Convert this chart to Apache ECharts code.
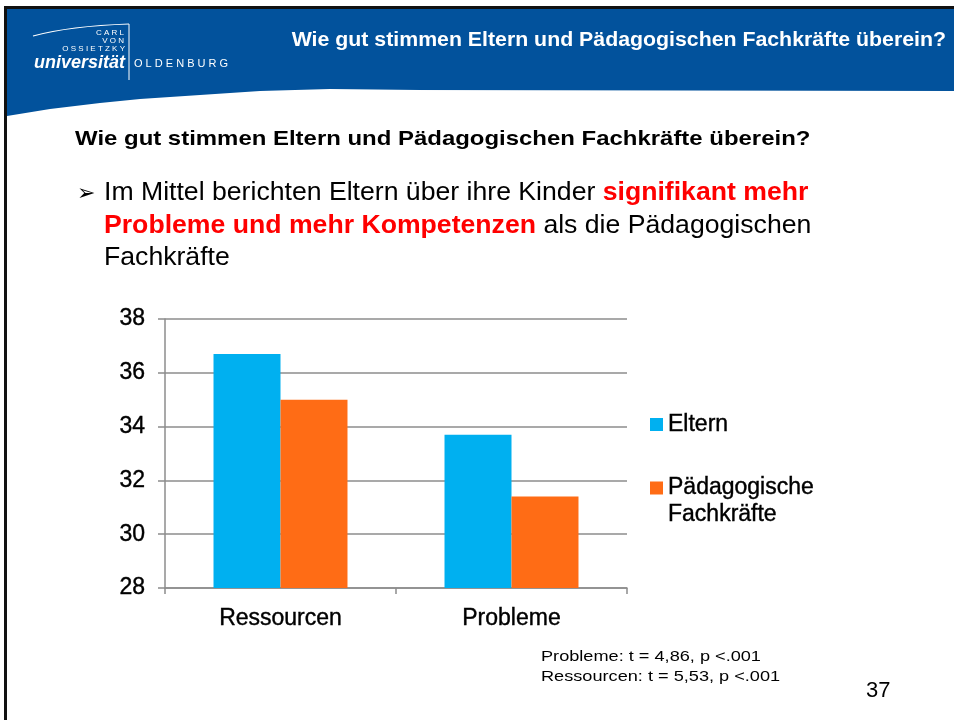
<!DOCTYPE html>
<html>
<head>
<meta charset="utf-8">
<script src="https://cdn.jsdelivr.net/npm/echarts@6/dist/echarts.min.js"></script>
<style>
html,body{margin:0;padding:0;background:#fff;}
#c{width:954px;height:720px;}
</style>
</head>
<body>
<div id="c"></div>
<script>
const categories = ['Ressourcen', 'Probleme'];
const seriesNames = ['Eltern', 'Pädagogische Fachkräfte'];
const elternValues = [36.7, 33.7];
const fachkraefteValues = [35.0, 31.4];
const yTicks = [28, 30, 32, 34, 36, 38];
const footnotes = ['Probleme: t = 4,86, p <.001', 'Ressourcen: t = 5,53, p <.001'];
const pageNumber = '37';

const FONT = '"Liberation Sans", Arial, sans-serif';
const chart = echarts.init(document.getElementById('c'), null, {renderer: 'canvas'});

const chartText = {color: '#000', fontSize: 23, fontFamily: FONT, textBorderColor: '#000', textBorderWidth: 0.4};

const option = {
  backgroundColor: '#ffffff',
  animation: false,
  grid: {left: 165, right: 327, top: 319, bottom: 132, containLabel: false},
  xAxis: {
    type: 'category',
    data: categories,
    axisLine: {show: true, lineStyle: {color: '#8c8c8c', width: 1.5}},
    axisTick: {show: true, length: 6, interval: 0, lineStyle: {color: '#8c8c8c', width: 1.5}},
    axisLabel: Object.assign({margin: 19}, chartText)
  },
  yAxis: {
    type: 'value',
    min: yTicks[0],
    max: yTicks[yTicks.length - 1],
    interval: yTicks[1] - yTicks[0],
    axisLine: {show: true, lineStyle: {color: '#8c8c8c', width: 1.5}},
    axisTick: {show: true, length: 7, lineStyle: {color: '#8c8c8c', width: 1.5}},
    splitLine: {show: true, lineStyle: {color: '#8c8c8c', width: 1.5}},
    axisLabel: Object.assign({margin: 20}, chartText)
  },
  legend: [
    {
      data: [seriesNames[0]], orient: 'vertical', left: 650, top: 411,
      itemWidth: 13, itemHeight: 13, itemGap: 0, icon: 'rect',
      textStyle: Object.assign({lineHeight: 27}, chartText),
      padding: 0
    },
    {
      data: [seriesNames[1]], orient: 'vertical', left: 650, top: 446,
      itemWidth: 13, itemHeight: 13, itemGap: 0, icon: 'rect',
      formatter: function (n) { return '\n' + n.replace(' ', '\n'); },
      textStyle: Object.assign({lineHeight: 27, padding: [3, 0, 0, 0]}, chartText),
      padding: 0
    }
  ],
  series: [
    {name: seriesNames[0], type: 'bar', data: elternValues, barGap: '0%', barCategoryGap: '42%',
     itemStyle: {color: '#00B0F0'}},
    {name: seriesNames[1], type: 'bar', data: fachkraefteValues, barGap: '0%', barCategoryGap: '42%',
     itemStyle: {color: '#FF6C15'}}
  ],
  graphic: [
    // slide borders
    {type: 'rect', shape: {x: 4, y: 6, width: 950, height: 3}, style: {fill: '#111'}, silent: true},
    {type: 'rect', shape: {x: 4, y: 6, width: 3, height: 714}, style: {fill: '#111'}, silent: true},
    // header band
    {type: 'polygon', silent: true, shape: {points: [[7,9],[954,9],[954,91],[420,90],[330,89],[260,91],[200,95],[140,99],[100,103],[50,109],[7,116]]}, style: {fill: '#02529C'}},
    // logo
    {type: 'bezierCurve', silent: true, shape: {x1: 33, y1: 36, x2: 129, y2: 24, cpx1: 70, cpy1: 26}, style: {stroke: '#fff', lineWidth: 1.2, fill: null}},
    {type: 'line', silent: true, shape: {x1: 129, y1: 24, x2: 129, y2: 80}, style: {stroke: '#fff', lineWidth: 1}},
    {type: 'text', silent: true, style: {x: 124, y: 33, text: 'C A R L', fill: '#fff', font: '8px ' + FONT, align: 'right', verticalAlign: 'middle'}},
    {type: 'text', silent: true, style: {x: 124, y: 41, text: 'V O N', fill: '#fff', font: '8px ' + FONT, align: 'right', verticalAlign: 'middle'}},
    {type: 'text', silent: true, style: {x: 125, y: 49, text: 'O S S I E T Z K Y', fill: '#fff', font: '8px ' + FONT, align: 'right', verticalAlign: 'middle'}},
    {type: 'text', silent: true, style: {x: 125, y: 63, text: 'universität', fill: '#fff', font: 'italic bold 18px ' + FONT, align: 'right', verticalAlign: 'middle'}},
    {type: 'text', silent: true, style: {x: 134, y: 64, text: 'O L D E N B U R G', fill: '#fff', font: '11px ' + FONT, align: 'left', verticalAlign: 'middle'}},
    // header title
    {type: 'text', silent: true, x: 946, y: 40, scaleX: 1.065, style: {x: 0, y: 0, text: 'Wie gut stimmen Eltern und Pädagogischen Fachkräfte überein?', fill: '#fff', font: 'bold 20px ' + FONT, align: 'right', verticalAlign: 'middle'}},
    // heading
    {type: 'text', silent: true, x: 75, y: 139, scaleX: 1.14, style: {x: 0, y: 0, text: 'Wie gut stimmen Eltern und Pädagogischen Fachkräfte überein?', fill: '#000', font: 'bold 21px ' + FONT, align: 'left', verticalAlign: 'middle'}},
    // bullet
    {type: 'text', silent: true, style: {x: 77, y: 194, text: '➢', fill: '#000', font: '22px "DejaVu Sans"', align: 'left', verticalAlign: 'middle'}},
    {type: 'text', silent: true, x: 104, y: 177, scaleX: 1.065, style: {
      x: 0, y: 0, align: 'left', verticalAlign: 'top',
      text: '{n|Im Mittel berichten Eltern über ihre Kinder }{r|signifikant mehr}\n{r|Probleme und mehr Kompetenzen}{n| als die Pädagogischen}\n{n|Fachkräfte}',
      rich: {
        n: {font: '25px ' + FONT, fill: '#000', lineHeight: 32.5},
        r: {font: 'bold 25px ' + FONT, fill: '#FF0000', lineHeight: 32.5}
      }
    }},
    // footnotes
    {type: 'text', silent: true, x: 541, y: 657, scaleX: 1.21, style: {x: 0, y: 0, text: footnotes[0], fill: '#000', font: '15px ' + FONT, align: 'left', verticalAlign: 'middle'}},
    {type: 'text', silent: true, x: 541, y: 677, scaleX: 1.21, style: {x: 0, y: 0, text: footnotes[1], fill: '#000', font: '15px ' + FONT, align: 'left', verticalAlign: 'middle'}},
    {type: 'text', silent: true, style: {x: 866, y: 691, text: pageNumber, fill: '#000', font: '22px ' + FONT, align: 'left', verticalAlign: 'middle'}}
  ]
};
chart.setOption(option);
</script>
</body>
</html>
